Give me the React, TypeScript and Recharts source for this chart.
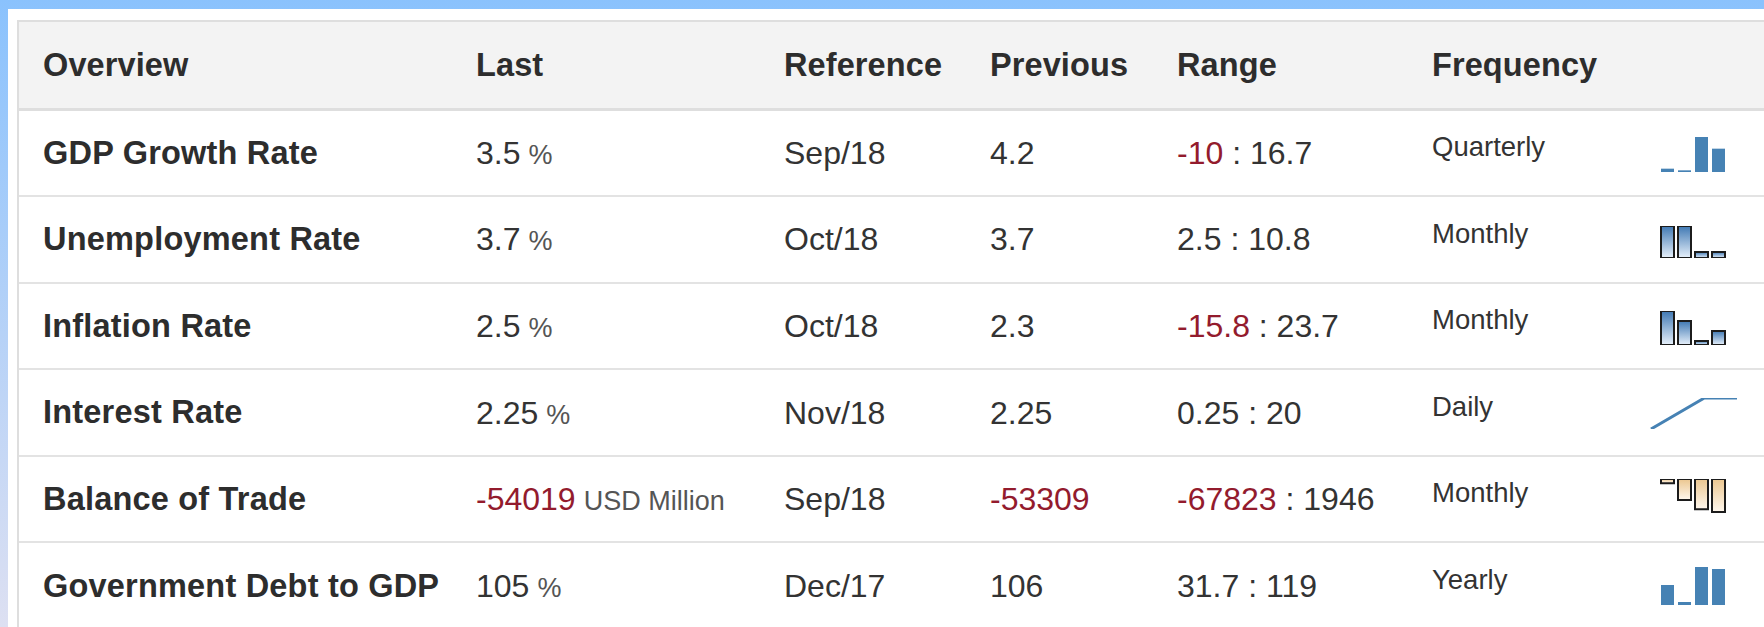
import React from 'react';
import { BarChart, Bar, LineChart, Line, XAxis, YAxis } from 'recharts';

const headers = ['Overview', 'Last', 'Reference', 'Previous', 'Range', 'Frequency'];
const indicators = [
  'GDP Growth Rate',
  'Unemployment Rate',
  'Inflation Rate',
  'Interest Rate',
  'Balance of Trade',
  'Government Debt to GDP',
];
const lastValues = ['3.5', '3.7', '2.5', '2.25', '-54019', '105'];
const lastUnits = ['%', '%', '%', '%', 'USD Million', '%'];
const references = ['Sep/18', 'Oct/18', 'Oct/18', 'Nov/18', 'Sep/18', 'Dec/17'];
const previousValues = ['4.2', '3.7', '2.3', '2.25', '-53309', '106'];
const rangeLow = ['-10', '2.5', '-15.8', '0.25', '-67823', '31.7'];
const rangeHigh = ['16.7', '10.8', '23.7', '20', '1946', '119'];
const frequencies = ['Quarterly', 'Monthly', 'Monthly', 'Daily', 'Monthly', 'Yearly'];

// sparkline values (last few readings)
const gdpSpark = [2.3, 2.2, 4.2, 3.5];
const unemploymentSpark = [3.9, 3.9, 3.7, 3.7];
const inflationSpark = [2.9, 2.7, 2.3, 2.5];
const interestDays = [0, 62, 100];
const interestSpark = [2.0, 2.25, 2.25];
const tradeSpark = [-46600, -50900, -53309, -54019];
const debtSpark = [100.6, 95.5, 106, 105.4];

const FONT = '"Liberation Sans", Arial, Helvetica, sans-serif';
const TEXT = '#333';
const RED = '#931b2d';
const COLS = [43, 476, 784, 990, 1177, 1432];
const ROW_TOP = 110.5;
const ROW_H = 86.6;

type Spark = {
  kind: 'bar' | 'line';
  values: number[];
  domain: [number, number];
  fill: string;
  stroke?: string;
  plotH: number;
  top: number;
};

const sparks: Spark[] = [
  { kind: 'bar', values: gdpSpark, domain: [2.1, 4.2], fill: '#4682b4', plotH: 35, top: 4 },
  { kind: 'bar', values: unemploymentSpark, domain: [3.654, 3.9], fill: 'url(#blueGrad)', stroke: '#1c1c1c', plotH: 32, top: 7 },
  { kind: 'bar', values: inflationSpark, domain: [2.22, 2.9], fill: 'url(#blueGrad)', stroke: '#1c1c1c', plotH: 34, top: 5 },
  { kind: 'line', values: interestSpark, domain: [2.0, 2.25], fill: '#4682b4', plotH: 31, top: 5 },
  { kind: 'bar', values: tradeSpark, domain: [-54544, -45500], fill: 'url(#sandGrad)', stroke: '#1c1c1c', plotH: 35, top: 0 },
  { kind: 'bar', values: debtSpark, domain: [94.6, 106], fill: '#4682b4', plotH: 38, top: 1 },
];

function Sparkline({ spark }: { spark: Spark }) {
  const boxH = 40;
  const margin = { top: spark.top, right: 0, left: 0, bottom: boxH - spark.top - spark.plotH };
  if (spark.kind === 'line') {
    const data = spark.values.map((v, i) => ({ x: interestDays[i], v }));
    return (
      <LineChart width={90} height={boxH} data={data} margin={{ ...margin, left: 2, right: 2 }}>
        <XAxis dataKey="x" type="number" domain={[0, 100]} hide />
        <YAxis domain={spark.domain} hide allowDataOverflow />
        <Line dataKey="v" stroke={spark.fill} strokeWidth={3} dot={false} isAnimationActive={false} />
      </LineChart>
    );
  }
  const data = spark.values.map((v, i) => ({ name: `p${i}`, v }));
  return (
    <BarChart width={68} height={boxH} data={data} margin={margin} barSize={13}>
      <defs>
        <linearGradient id="blueGrad" x1="0" y1="0" x2="0" y2="1">
          <stop offset="0%" stopColor="#3f78b3" />
          <stop offset="100%" stopColor="#e8f1fb" />
        </linearGradient>
        <linearGradient id="sandGrad" x1="0" y1="0" x2="0" y2="1">
          <stop offset="0%" stopColor="#ebc68f" />
          <stop offset="100%" stopColor="#fff8ee" />
        </linearGradient>
      </defs>
      <XAxis dataKey="name" hide />
      <YAxis domain={spark.domain} hide allowDataOverflow />
      <Bar
        dataKey="v"
        fill={spark.fill}
        stroke={spark.stroke}
        strokeWidth={spark.stroke ? 2 : 0}
        isAnimationActive={false}
      />
    </BarChart>
  );
}

function Num({ value, size = 32 }: { value: string; size?: number }) {
  return <span style={{ color: value.startsWith('-') ? RED : TEXT, fontSize: size }}>{value}</span>;
}

export default function App() {
  const cell = (left: number, extra: React.CSSProperties = {}): React.CSSProperties => ({
    position: 'absolute',
    left,
    top: 0,
    height: '100%',
    display: 'flex',
    alignItems: 'center',
    whiteSpace: 'nowrap',
    lineHeight: 1,
    ...extra,
  });

  return (
    <div
      style={{
        position: 'fixed',
        left: 0,
        top: 0,
        width: 1764,
        height: 627,
        overflow: 'hidden',
        background: 'linear-gradient(to bottom, #8ac2fd, #dde0f2)',
        fontFamily: FONT,
      }}
    >
      <div style={{ position: 'absolute', left: 8, top: 9, right: 0, bottom: 0, background: '#fff' }} />
      <div
        style={{
          position: 'absolute',
          left: 17,
          top: 20,
          width: 1800,
          height: 620,
          borderLeft: '2px solid #dedede',
        }}
      >
        <div
          style={{
            position: 'absolute',
            left: 0,
            top: 0,
            width: '100%',
            height: 90.5,
            boxSizing: 'border-box',
            background: '#f3f3f3',
            borderTop: '2px solid #dedede',
            borderBottom: '3px solid #dedede',
          }}
        >
          {headers.map((h, i) => (
            <div
              key={h}
              style={cell(COLS[i] - 19, { fontWeight: 700, fontSize: 32.5, color: '#2d2d2d', letterSpacing: 0.1 })}
            >
              {h}
            </div>
          ))}
        </div>
        {indicators.map((name, r) => (
          <div
            key={name}
            style={{
              position: 'absolute',
              left: 0,
              top: ROW_TOP - 20 + r * ROW_H,
              width: '100%',
              height: ROW_H,
              boxSizing: 'border-box',
              borderBottom: '2px solid #e3e3e3',
              color: TEXT,
            }}
          >
            <div style={cell(COLS[0] - 19, { fontWeight: 700, fontSize: 32.5, color: '#2d2d2d', letterSpacing: 0.2 })}>
              {name}
            </div>
            <div style={cell(COLS[1] - 19)}>
              <div style={{ lineHeight: 1 }}>
                <Num value={lastValues[r]} />
                <span style={{ fontSize: 27, color: '#555', marginLeft: 8 }}>{lastUnits[r]}</span>
              </div>
            </div>
            <div style={cell(COLS[2] - 19, { fontSize: 32 })}>{references[r]}</div>
            <div style={cell(COLS[3] - 19)}>
              <Num value={previousValues[r]} />
            </div>
            <div style={cell(COLS[4] - 19, { fontSize: 32 })}>
              <Num value={rangeLow[r]} />
              <span style={{ color: TEXT }}>&nbsp;:&nbsp;</span>
              <Num value={rangeHigh[r]} />
            </div>
            <div style={cell(COLS[5] - 19, { fontSize: 27.5, marginTop: -6 })}>{frequencies[r]}</div>
            <div
              style={{
                position: 'absolute',
                left: sparks[r].kind === 'line' ? 1647 - 17 : 1657 - 17,
                top: ROW_H / 2 - 21,
                height: 40,
              }}
            >
              <Sparkline spark={sparks[r]} />
            </div>
          </div>
        ))}
      </div>
    </div>
  );
}
